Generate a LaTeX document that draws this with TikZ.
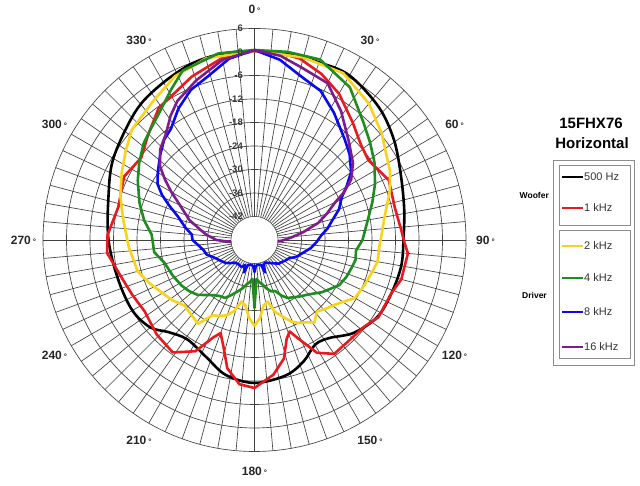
\documentclass[tikz,border=0pt]{standalone}
\usepackage{fontspec}
\setmainfont{Liberation Sans}
\definecolor{cblack}{HTML}{000000}
\definecolor{cred}{HTML}{E8191F}
\definecolor{cyel}{HTML}{F8D31C}
\definecolor{cgreen}{HTML}{1E8C1E}
\definecolor{cblue}{HTML}{0A0AF0}
\definecolor{cpurp}{HTML}{7E1C8E}
\definecolor{gridc}{HTML}{404040}
\newcommand{\dg}{\,{\fontsize{8}{8}\selectfont °}}
\begin{document}
\begin{tikzpicture}[x=1pt,y=1pt,
 gridline/.style={draw=gridc,line width=0.65pt},
 curve/.style={line width=2.6pt,line join=round,line cap=round},
 anglab/.style={font=\fontsize{12}{12}\selectfont\bfseries, text=black!85, inner sep=0pt},
 ringlab/.style={font=\fontsize{9.5}{9.5}\selectfont\bfseries, text=black!78, anchor=east, inner sep=0pt},
 legline/.style={line width=2.6pt},
 legtext/.style={font=\fontsize{11}{11}\selectfont, text=black!80, anchor=west, inner sep=1pt},
 legbox/.style={draw=black!45, line width=0.8pt},
 grouplab/.style={font=\fontsize{8.5}{8.5}\selectfont\bfseries, anchor=east, inner sep=0pt},
 titlelab/.style={font=\fontsize{15}{15}\selectfont\bfseries, inner sep=0pt}
]
\useasboundingbox (0,0) rectangle (640,486);
\fill[white] (0,0) rectangle (640,486);
\coordinate (C) at (254.5,246);
\begin{scope}[shift={(254.5,246)}]
 \foreach \a in {0,5,...,355} \draw[gridline] (\a:23.5) -- (\a:211.5);
 \foreach \k in {1,...,9} \draw[gridline] (0,0) circle[radius=23.5*\k];
\end{scope}
% curves: coordinates given as (compass angle : radius)
\begin{scope}[cm={0,1,1,0,(254.5,246)}]
\draw[curve,cblack] plot[smooth cycle,tension=0.55] coordinates {(0:189) (10:189) (20:189) (30:190) (43:182) (54:172) (65:161) (78:153) (90:149) (100:149) (111:147) (122:145) (133:136) (143:123) (150:121) (158:131) (167:139) (180:143) (192:138) (202:127) (214:120) (223:126) (230:136) (240:141) (254:142) (270:146) (286:152) (300:163) (317:175) (328:181) (340:187) (350:189)};
\draw[curve,cred] plot coordinates {(0:189) (7:189) (14:187) (22:179) (30:169) (40:153) (48:143) (55:139) (60:142) (66:147) (77:144) (86:147) (91:150) (95:154) (105:152) (111:147) (122:146) (128:140) (138:138) (145:139) (151:129) (156:108) (159:98) (162:104) (166:122) (172:136) (180:148) (186:145) (192:131) (196:112) (200:99) (203:106) (208:126) (216:139) (226:136) (237:131) (246:134) (254:138) (265:148) (272:147) (284:140) (290:142) (296:145) (306:140) (315:150) (324:163) (339:175) (350:185)} -- cycle;
\draw[curve,cyel] plot coordinates {(0:189) (15:189) (28:189) (40:178) (50:166) (63:152) (70:144) (80:132) (88:127) (93:125) (100:125) (105:122) (112:119) (120:116) (125:108) (129:103) (134:99) (139:95) (144:102) (148:97) (152:94) (156:89) (159:83) (164:75) (168:63) (172:66) (176:78) (180:86) (184:78) (188:66) (192:63) (196:74) (200:80) (205:84) (209:86) (214:101) (220:98) (227:96) (234:102) (241:107) (248:114) (255:121) (267:126) (279:133) (288:141) (297:149) (305:157) (312:165) (324:172) (334:182) (345:188)} -- cycle;
\draw[curve,cgreen] plot coordinates {(0:190) (10:191) (20:192) (32:180) (43:160) (50:151) (57:143) (65:133) (72:124) (79:116) (85:111) (90:108) (96:102) (101:103) (106:101) (112:99) (118:96) (123:90) (128:85) (132:80) (136:76) (142:72) (146:69) (150:67) (154:62) (158:55) (162:54) (166:50) (170:45) (174:42) (177:39) (180:68) (183:39) (186:42) (190:45) (194:50) (198:54) (203:60) (207:65) (212:66) (217:69) (222:74) (226:79) (232:83) (238:86) (246:89) (256:93) (263:101) (273:103) (280:112) (288:121) (297:131) (304:139) (311:147) (318:153) (324:160) (331:172) (337:184) (349:190)} -- cycle;
\draw[curve,cblue] plot coordinates {(0:190) (8:182) (16:170) (24:163) (32:150) (42:135) (48:128) (55:118) (60:106) (64:97) (70:90) (76:80) (81:74) (86:67) (92:62) (98:57) (105:50) (112:45) (118:39) (124:37) (129:35) (134:34) (141:30) (148:27) (155:25) (159:26) (162:34) (165:26) (171:25) (177:26) (180:32) (183:26) (189:25) (195:26) (198:34) (201:27) (206:30) (214:29) (221:30) (227:34) (232:37) (239:40) (245:43) (253:50) (259:52) (263:55) (270:62) (275:63) (280:70) (287:80) (292:92) (296:103) (300:112) (305:118) (312:127) (318:135) (323:139) (330:152) (337:163) (344:170) (352:183)} -- cycle;
\draw[curve,cpurp] plot coordinates {(0:190) (8:186) (15:179) (25:173) (34:155) (44:136) (52:125) (58:114) (62:101) (65:89) (70:77) (75:66) (81:49) (86:37) (91:28) (96:20) (100:12) (180:5) (260:12) (264:22) (270:38) (276:48) (280:54) (287:68) (294:80) (300:96) (304:108) (308:120) (314:131) (320:138) (326:150) (331:159) (340:170) (350:183)} -- cycle;
\end{scope}
\fill[white] (C) circle[radius=23];
% ring labels
\foreach \lab [count=\i from 0] in {6,0,-6,-12,-18,-24,-30,-36,-42}
 \node[ringlab] (r\i) at (243,{246+211.5-23.5*\i}) {\lab};
% angle labels
\begin{scope}[shift={(254.5,246)}]
\foreach \t in {0,30,...,330}
 \node[anglab] (a\t) at ({90-\t}:231) {\t\dg};
\end{scope}
% legend
\node[titlelab] (title1) at (591,363) {15FHX76};
\node[titlelab] (title2) at (592,343) {Horizontal};
\draw[legbox] (553,326) rectangle (634,121);
\draw[legbox] (559,321) rectangle (630,261);
\draw[legbox] (559,256) rectangle (630,128);
\node[grouplab] (woofer) at (549,291) {Woofer};
\node[grouplab] (driver) at (547,191) {Driver};
\foreach \y/\c/\txt [count=\j] in {309/cblack/500 Hz, 278/cred/1 kHz, 240/cyel/2 kHz, 208/cgreen/4 kHz, 174/cblue/8 kHz, 139/cpurp/16 kHz}{
 \draw[legline,\c] (562,\y) -- (583,\y);
 \node[legtext] (leg\j) at (583,\y) {\txt};
}
\end{tikzpicture}
\end{document}
